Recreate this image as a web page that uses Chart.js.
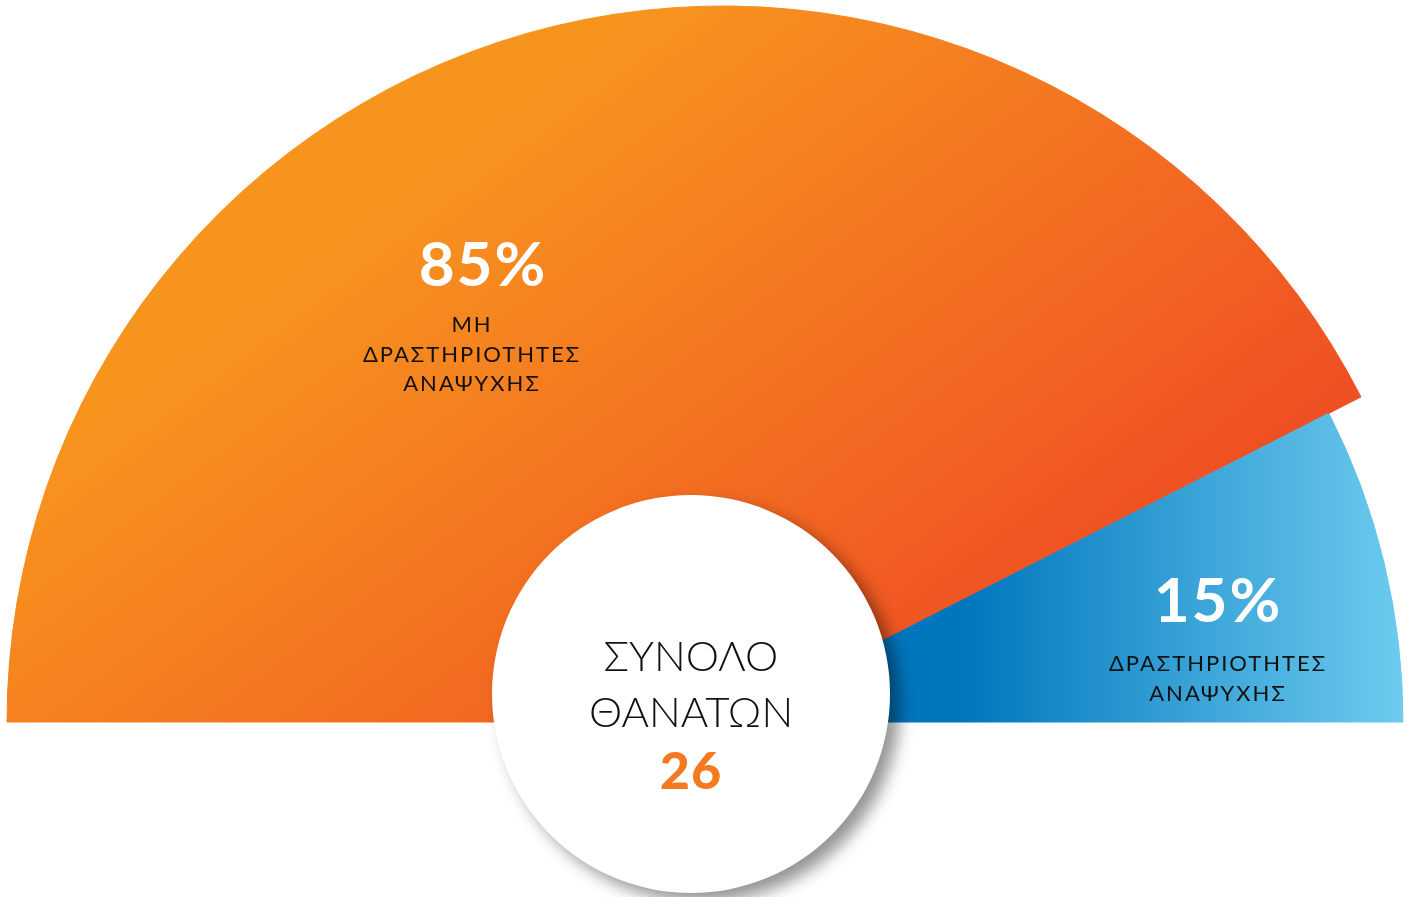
<!DOCTYPE html>
<html>
<head>
<meta charset="utf-8">
<script src="https://cdn.jsdelivr.net/npm/chart.js@4.4.1/dist/chart.umd.min.js"></script>
<style>
  html, body { margin: 0; padding: 0; background: #fff; }
  #wrap { position: relative; width: 1410px; height: 897px; overflow: hidden; font-family: Lato, "Noto Sans", sans-serif; }
  #chart { position: absolute; left: 0; top: 0; }
  .pct { position: absolute; transform: translateX(-50%); color: #fff; font-weight: 700; font-size: 62px; line-height: 62px; letter-spacing: 2px; white-space: nowrap; }
  .lbl { position: absolute; transform: translateX(-50%); color: #111; font-weight: 400; font-size: 22px; line-height: 29.5px; letter-spacing: 2px; text-align: center; white-space: nowrap; }
  #hub { position: absolute; left: 492px; top: 495px; width: 398px; height: 398px; border-radius: 50%; background: #fff;
         box-shadow: 10px 9px 16px rgba(0,0,0,0.42); }
  #hubText { position: absolute; left: 691px; top: 627px; transform: translateX(-50%); text-align: center; white-space: nowrap; color: #111; }
  #hubText .t { font-weight: 300; font-size: 42px; line-height: 56px; }
  #hubText .n { font-weight: 900; font-size: 52px; line-height: 60px; letter-spacing: 1px; color: #F47920; }
</style>
</head>
<body>
<div id="wrap">
  <canvas id="chart" width="1410" height="897"></canvas>
  <div id="hub"></div>
  <div id="hubText"></div>
</div>
<script>
// data read from the infographic
const categories = ['ΜΗ ΔΡΑΣΤΗΡΙΟΤΗΤΕΣ ΑΝΑΨΥΧΗΣ', 'ΔΡΑΣΤΗΡΙΟΤΗΤΕΣ ΑΝΑΨΥΧΗΣ'];
const labelLines = [['ΜΗ', 'ΔΡΑΣΤΗΡΙΟΤΗΤΕΣ', 'ΑΝΑΨΥΧΗΣ'], ['ΔΡΑΣΤΗΡΙΟΤΗΤΕΣ', 'ΑΝΑΨΥΧΗΣ']];
const shares = [85, 15];
const centerTitle = ['ΣΥΝΟΛΟ', 'ΘΑΝΑΤΩΝ'];
const totalDeaths = 26;

const RADIUS = 716;      // outer radius of the orange slice
const BLUE_RADIUS = 680; // the blue slice sits a little inside

// centre of the half circle from the chart area
function centre(chart) {
  const a = chart.chartArea;
  return { x: (a.left + a.right) / 2, y: (a.top + a.bottom) / 2 + RADIUS / 2 };
}

function orangeFill(chart) {
  const c = centre(chart);
  const g = chart.ctx.createLinearGradient(c.x - 72, c.y - 722, c.x + 378, c.y - 122);
  g.addColorStop(0, '#F7941E');
  g.addColorStop(1, '#EF4E23');
  return g;
}

function blueFill(chart) {
  const c = centre(chart);
  const g = chart.ctx.createLinearGradient(c.x + 238, 0, c.x + BLUE_RADIUS, 0);
  g.addColorStop(0, '#0076BD');
  g.addColorStop(1, '#6DCBEF');
  return g;
}

// one scriptable colour for every arc; the outer ring keeps only the orange slice
function sliceColour(ctx) {
  const chart = ctx.chart;
  if (!chart.chartArea) return ctx.dataIndex === 0 ? '#F7941E' : '#0076BD';
  if (ctx.dataIndex === 0) return orangeFill(chart);
  return ctx.datasetIndex === 0 ? 'rgba(0,0,0,0)' : blueFill(chart);
}

new Chart(document.getElementById('chart'), {
  type: 'pie',
  data: {
    labels: categories,
    datasets: [
      { data: shares, weight: RADIUS - BLUE_RADIUS, clip: false },
      { data: shares, weight: BLUE_RADIUS, clip: false },
    ]
  },
  options: {
    responsive: false,
    animation: false,
    rotation: -90,
    circumference: 180,
    radius: RADIUS,
    layout: { padding: { left: 36, right: 0, top: 0, bottom: 169 } },
    elements: {
      arc: {
        backgroundColor: sliceColour,
        borderColor: sliceColour,
        borderWidth: ctx => (ctx.datasetIndex === 0 && ctx.dataIndex === 1) ? 0 : 1,
      }
    },
    plugins: { legend: { display: false }, tooltip: { enabled: false } },
    events: [],
  }
});

// slice labels
const wrap = document.getElementById('wrap');
const labelPos = [{ x: 483, lx: 472, pctTop: 231, lblTop: 309 }, { x: 1218, lx: 1218, pctTop: 567, lblTop: 648 }];
shares.forEach((v, i) => {
  const p = document.createElement('div');
  p.className = 'pct';
  p.style.left = labelPos[i].x + 'px';
  p.style.top = labelPos[i].pctTop + 'px';
  p.textContent = v + '%';
  wrap.appendChild(p);
  const l = document.createElement('div');
  l.className = 'lbl';
  l.style.left = labelPos[i].lx + 'px';
  l.style.top = labelPos[i].lblTop + 'px';
  l.innerHTML = labelLines[i].join('<br>');
  wrap.appendChild(l);
});

document.getElementById('hubText').innerHTML =
  centerTitle.map(t => '<div class="t">' + t + '</div>').join('') +
  '<div class="n">' + totalDeaths + '</div>';
</script>
</body>
</html>
